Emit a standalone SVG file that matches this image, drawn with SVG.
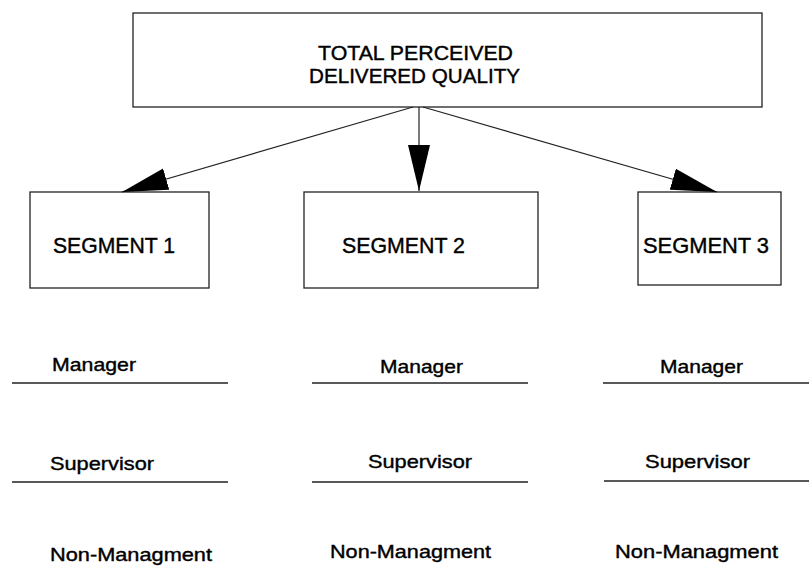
<svg xmlns="http://www.w3.org/2000/svg" width="809" height="566" viewBox="0 0 809 566">
<style>
.box{fill:#fff;stroke:#222;stroke-width:1.3}
.t{font-family:"Liberation Sans",Arial,sans-serif;fill:#000;stroke:#000;stroke-width:0.4}
.big{font-size:21px}
.seg{font-size:22px}
.row{font-size:19px}
.rule{stroke:#222;stroke-width:1.3}
.conn{stroke:#222;stroke-width:1.2;fill:none}
</style>
<defs>
<marker id="ah" viewBox="0 -12 46 24" refX="46" refY="0" markerWidth="46" markerHeight="24" markerUnits="userSpaceOnUse" orient="auto">
<path d="M0,-11 L46,0 L0,11 z" fill="#000"/>
</marker>
</defs>
<rect width="809" height="566" fill="#fff"/>
<g id="total">
<rect class="box" x="133" y="13" width="629" height="94"/>
<text class="t big" x="318" y="60" textLength="195" lengthAdjust="spacingAndGlyphs">TOTAL PERCEIVED</text>
<text class="t big" x="309" y="83" textLength="211" lengthAdjust="spacingAndGlyphs">DELIVERED QUALITY</text>
</g>
<g id="segment1">
<rect class="box" x="30" y="192" width="179" height="96"/>
<text class="t seg" x="53" y="253" textLength="122" lengthAdjust="spacingAndGlyphs">SEGMENT 1</text>
</g>
<g id="segment2">
<rect class="box" x="304" y="192" width="234" height="96"/>
<text class="t seg" x="342" y="253" textLength="123" lengthAdjust="spacingAndGlyphs">SEGMENT 2</text>
</g>
<g id="segment3">
<rect class="box" x="638" y="192" width="143" height="93"/>
<text class="t seg" x="643" y="253" textLength="126" lengthAdjust="spacingAndGlyphs">SEGMENT 3</text>
</g>
<g id="connectors">
<line class="conn" x1="413" y1="107" x2="122" y2="192" marker-end="url(#ah)"/>
<line class="conn" x1="419" y1="107" x2="419" y2="191" marker-end="url(#ah)"/>
<line class="conn" x1="423" y1="107" x2="717" y2="192" marker-end="url(#ah)"/>
</g>
<g id="levels1">
<text class="t row" x="52" y="371" textLength="84" lengthAdjust="spacingAndGlyphs">Manager</text>
<line class="rule" x1="12" y1="383" x2="228" y2="383"/>
<text class="t row" x="50" y="470" textLength="104" lengthAdjust="spacingAndGlyphs">Supervisor</text>
<line class="rule" x1="12" y1="482" x2="228" y2="482"/>
<text class="t row" x="50" y="561" textLength="162" lengthAdjust="spacingAndGlyphs">Non-Managment</text>
</g>
<g id="levels2">
<text class="t row" x="380" y="373" textLength="83" lengthAdjust="spacingAndGlyphs">Manager</text>
<line class="rule" x1="312" y1="383" x2="528" y2="383"/>
<text class="t row" x="368" y="468" textLength="104" lengthAdjust="spacingAndGlyphs">Supervisor</text>
<line class="rule" x1="312" y1="482" x2="528" y2="482"/>
<text class="t row" x="330" y="558" textLength="161" lengthAdjust="spacingAndGlyphs">Non-Managment</text>
</g>
<g id="levels3">
<text class="t row" x="660" y="373" textLength="83" lengthAdjust="spacingAndGlyphs">Manager</text>
<line class="rule" x1="603" y1="383" x2="809" y2="383"/>
<text class="t row" x="645" y="468" textLength="105" lengthAdjust="spacingAndGlyphs">Supervisor</text>
<line class="rule" x1="604" y1="481" x2="809" y2="481"/>
<text class="t row" x="615" y="558" textLength="163" lengthAdjust="spacingAndGlyphs">Non-Managment</text>
</g>
</svg>
